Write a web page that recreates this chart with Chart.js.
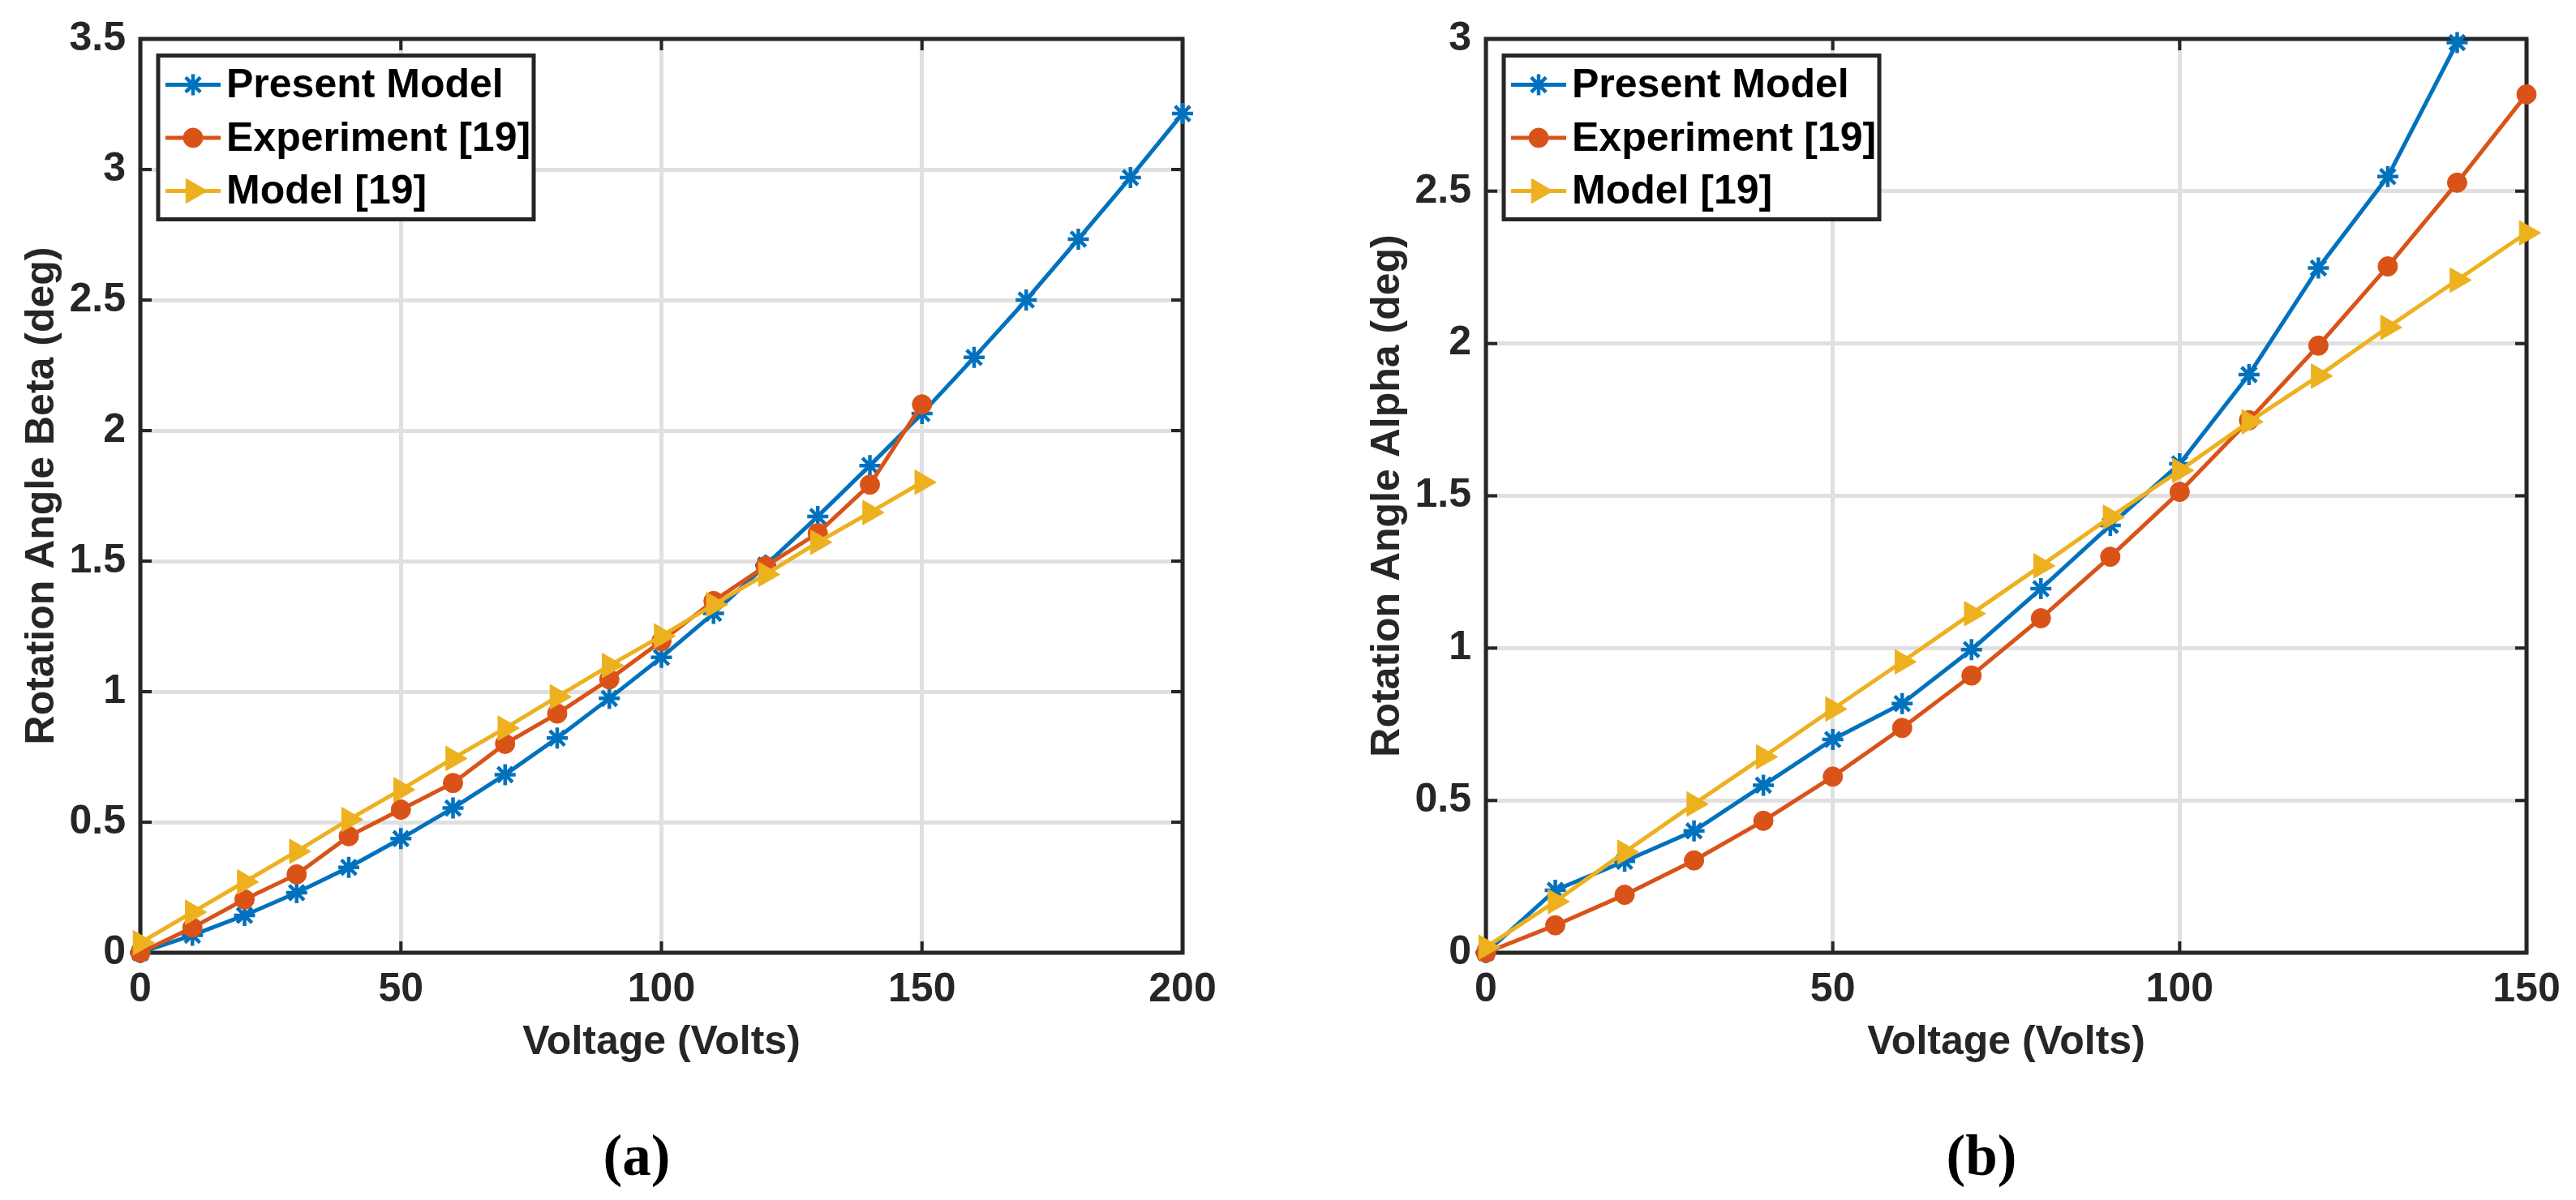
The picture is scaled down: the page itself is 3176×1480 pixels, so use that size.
<!DOCTYPE html>
<html>
<head>
<meta charset="utf-8">
<title>Rotation angle vs voltage</title>
<script src="https://cdn.jsdelivr.net/npm/chart.js@4.4.1/dist/chart.umd.min.js"></script>
<style>
  html, body { margin: 0; padding: 0; background: #fff; }
  #page { position: relative; width: 3176px; height: 1480px; overflow: hidden; }
  canvas { position: absolute; top: 0; }
  #chartA { left: 0; }
  #chartB { left: 1588px; }
  .caption {
    position: absolute; top: 1385px; width: 200px; margin-left: -100px;
    text-align: center; font: bold 71px 'Liberation Serif', serif; color: #000; line-height: 80px;
  }
</style>
</head>
<body>
<div id="page">
  <canvas id="chartA" width="1588" height="1480"></canvas>
  <canvas id="chartB" width="1588" height="1480"></canvas>
  <div class="caption" style="left:785px">(a)</div>
  <div class="caption" style="left:2443px">(b)</div>
</div>
<script>
// ---- data ----
// (a) rotation angle beta
const voltsA = [0, 10, 20, 30, 40, 50, 60, 70, 80, 90, 100, 110, 120, 130, 140, 150, 160, 170, 180, 190, 200];
const betaPresent = [0, 0.067, 0.143, 0.23, 0.327, 0.437, 0.554, 0.682, 0.822, 0.974, 1.131, 1.30, 1.484, 1.671, 1.866, 2.065, 2.28, 2.50, 2.733, 2.969, 3.214];
const voltsRefA = [0, 10, 20, 30, 40, 50, 60, 70, 80, 90, 100, 110, 120, 130, 140, 150];
const betaExperiment = [0, 0.096, 0.204, 0.30, 0.446, 0.548, 0.65, 0.80, 0.916, 1.047, 1.193, 1.347, 1.481, 1.607, 1.793, 2.10];
const betaModel19 = [0.038, 0.155, 0.271, 0.388, 0.51, 0.624, 0.744, 0.86, 0.98, 1.10, 1.213, 1.333, 1.449, 1.572, 1.686, 1.802];
const xTicksA = [0, 50, 100, 150, 200];
const yTicksA = [0, 0.5, 1, 1.5, 2, 2.5, 3, 3.5];

// (b) rotation angle alpha
const voltsPresentB = [0, 10, 20, 30, 40, 50, 60, 70, 80, 90, 100, 110, 120, 130, 140];
const alphaPresent = [0, 0.205, 0.30, 0.40, 0.55, 0.70, 0.818, 0.995, 1.195, 1.403, 1.605, 1.898, 2.248, 2.548, 2.988];
const voltsRefB = [0, 10, 20, 30, 40, 50, 60, 70, 80, 90, 100, 110, 120, 130, 140, 150];
const alphaExperiment = [0, 0.09, 0.19, 0.303, 0.433, 0.578, 0.738, 0.91, 1.098, 1.30, 1.513, 1.748, 1.993, 2.253, 2.528, 2.818];
const alphaModel19 = [0.018, 0.168, 0.33, 0.488, 0.643, 0.80, 0.955, 1.113, 1.27, 1.43, 1.583, 1.743, 1.893, 2.053, 2.208, 2.363];
const xTicksB = [0, 50, 100, 150];
const yTicksB = [0, 0.5, 1, 1.5, 2, 2.5, 3];

const seriesNames = ['Present Model', 'Experiment [19]', 'Model [19]'];

const BLUE = '#0072BD', ORANGE = '#D95319', YELLOW = '#EDB120';
const AXIS = '#262626';

Chart.defaults.font.family = '"Liberation Sans", Arial, sans-serif';

function pts(xs, ys) {
    return xs.map((x, i) => ({ x: x, y: ys[i] }));
}

// MATLAB-like box with inward ticks on all four sides
const axesBox = {
    id: 'axesBox',
    beforeDatasetsDraw(chart) {
        const { ctx, chartArea: a, scales: { x, y } } = chart;
        const t = 14;
        ctx.save();
        ctx.strokeStyle = AXIS;
        ctx.lineWidth = 4;
        ctx.beginPath();
        x.ticks.forEach(tk => {
            const px = x.getPixelForValue(tk.value);
            ctx.moveTo(px, a.bottom); ctx.lineTo(px, a.bottom - t);
            ctx.moveTo(px, a.top); ctx.lineTo(px, a.top + t);
        });
        y.ticks.forEach(tk => {
            const py = y.getPixelForValue(tk.value);
            ctx.moveTo(a.left, py); ctx.lineTo(a.left + t, py);
            ctx.moveTo(a.right, py); ctx.lineTo(a.right - t, py);
        });
        ctx.stroke();
        ctx.lineWidth = 5;
        ctx.strokeRect(a.left, a.top, a.right - a.left, a.bottom - a.top);
        ctx.restore();
    }
};

// legend box in the upper left corner of the axes
const boxLegend = {
    id: 'boxLegend',
    afterDraw(chart) {
        const { ctx, chartArea: a } = chart;
        const left = a.left + 22, top = a.top + 20.5, w = 463, h = 202;
        ctx.save();
        ctx.fillStyle = '#fff';
        ctx.fillRect(left, top, w, h);
        ctx.lineWidth = 5;
        ctx.strokeStyle = AXIS;
        ctx.strokeRect(left, top, w, h);
        chart.data.datasets.forEach((ds, i) => {
            const cy = top + 36 + i * 65.5;
            ctx.strokeStyle = ds.borderColor;
            ctx.lineWidth = ds.borderWidth;
            ctx.beginPath();
            ctx.moveTo(left + 9, cy);
            ctx.lineTo(left + 77, cy);
            ctx.stroke();
            ctx.fillStyle = ds.pointBackgroundColor;
            ctx.strokeStyle = ds.pointBorderColor;
            ctx.lineWidth = ds.pointBorderWidth;
            Chart.helpers.drawPoint(ctx, {
                pointStyle: ds.pointStyle,
                rotation: ds.pointRotation || 0,
                radius: ds.pointRadius,
                borderWidth: ds.pointBorderWidth
            }, left + 43, cy);
            ctx.fillStyle = '#000';
            ctx.font = 'bold 50px "Liberation Sans", Arial, sans-serif';
            ctx.textBaseline = 'middle';
            ctx.textAlign = 'left';
            ctx.fillText(ds.label, left + 84, cy + 2);
        });
        ctx.restore();
    }
};

function makeDatasets(present, experiment, model) {
    return [{
        label: seriesNames[0],
        data: present,
        borderColor: BLUE,
        borderWidth: 5,
        pointStyle: 'star',
        pointRadius: 13,
        pointBorderWidth: 4.5,
        pointBorderColor: BLUE,
        pointBackgroundColor: BLUE,
        order: 3
    }, {
        label: seriesNames[1],
        data: experiment,
        borderColor: ORANGE,
        borderWidth: 5,
        pointStyle: 'circle',
        pointRadius: 12,
        pointBorderWidth: 1,
        pointBorderColor: ORANGE,
        pointBackgroundColor: ORANGE,
        order: 2
    }, {
        label: seriesNames[2],
        data: model,
        borderColor: YELLOW,
        borderWidth: 5,
        pointStyle: 'triangle',
        pointRotation: 90,
        pointRadius: 17.5,
        pointBorderWidth: 1,
        pointBorderColor: YELLOW,
        pointBackgroundColor: YELLOW,
        order: 1
    }];
}

function makeChart(canvasId, datasets, cfg) {
    return new Chart(document.getElementById(canvasId), {
        type: 'line',
        data: { datasets: datasets },
        plugins: [axesBox, boxLegend],
        options: {
            responsive: false,
            devicePixelRatio: 1,
            animation: false,
            events: [],
            clip: false,
            layout: { padding: { top: 44, right: cfg.padRight, left: 0, bottom: 0 } },
            elements: { line: { tension: 0 } },
            plugins: { legend: { display: false }, tooltip: { enabled: false } },
            scales: {
                x: {
                    type: 'linear',
                    min: cfg.xTicks[0],
                    max: cfg.xTicks[cfg.xTicks.length - 1],
                    afterBuildTicks: s => { s.ticks = cfg.xTicks.map(v => ({ value: v })); },
                    afterFit: s => { s.height = 305; },
                    grid: { color: '#e0e0e0', lineWidth: 5, drawTicks: false },
                    border: { display: false },
                    ticks: {
                        color: AXIS, font: { size: 50, weight: 'bold' }, padding: 16,
                        maxRotation: 0, autoSkip: false, callback: v => String(v)
                    },
                    title: {
                        display: true, text: 'Voltage (Volts)', color: AXIS,
                        font: { size: 50, weight: 'bold' }, padding: { top: 0, bottom: 164 }
                    }
                },
                y: {
                    type: 'linear',
                    min: cfg.yTicks[0],
                    max: cfg.yTicks[cfg.yTicks.length - 1],
                    afterBuildTicks: s => { s.ticks = cfg.yTicks.map(v => ({ value: v })); },
                    afterFit: s => { s.width = cfg.axisWidth; },
                    grid: { color: '#e0e0e0', lineWidth: 5, drawTicks: false },
                    border: { display: false },
                    ticks: {
                        color: AXIS, font: { size: 50, weight: 'bold' }, padding: 18,
                        autoSkip: false, callback: v => String(v)
                    },
                    title: {
                        display: true, text: cfg.yTitle, color: AXIS,
                        font: { size: 50, weight: 'bold' }, padding: { top: cfg.titlePad, bottom: 0 }
                    }
                }
            }
        }
    });
}

makeChart('chartA',
    makeDatasets(pts(voltsA, betaPresent), pts(voltsRefA, betaExperiment), pts(voltsRefA, betaModel19)),
    { xTicks: xTicksA, yTicks: yTicksA, yTitle: 'Rotation Angle Beta (deg)', axisWidth: 173, padRight: 130, titlePad: 22 });

makeChart('chartB',
    makeDatasets(pts(voltsPresentB, alphaPresent), pts(voltsRefB, alphaExperiment), pts(voltsRefB, alphaModel19)),
    { xTicks: xTicksB, yTicks: yTicksB, yTitle: 'Rotation Angle Alpha (deg)', axisWidth: 244, padRight: 61, titlePad: 93 });
</script>
</body>
</html>
